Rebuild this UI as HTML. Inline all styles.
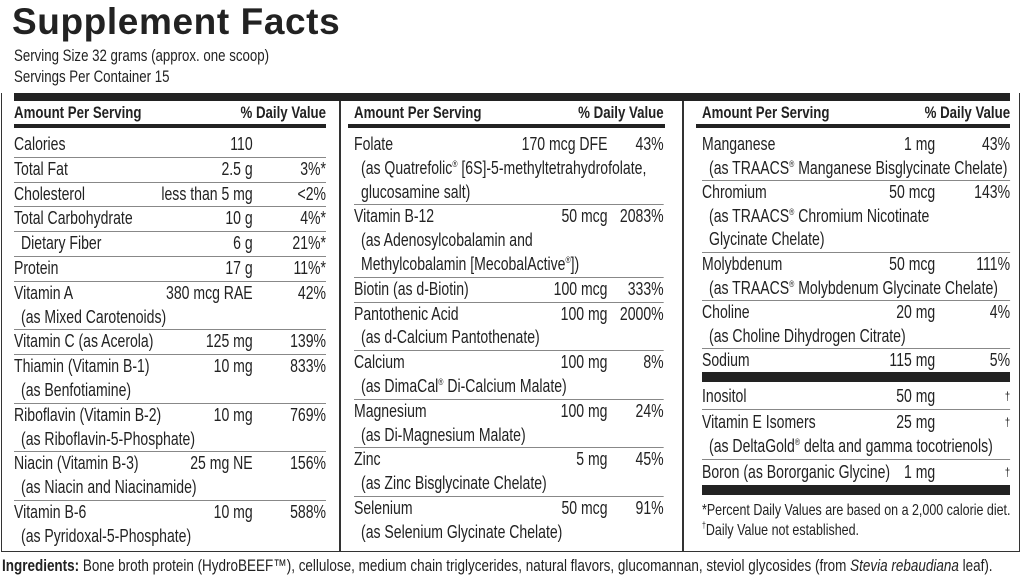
<!DOCTYPE html>
<html><head><meta charset="utf-8"><style>
body{margin:0;width:1024px;height:587px;background:#fff;position:relative;overflow:hidden;color:#222;font-family:"Liberation Sans",sans-serif;}
.a{position:absolute;white-space:nowrap}
.sc{transform:scaleX(0.78);transform-origin:0 0}
.title{left:12px;top:1px;font-weight:bold;font-size:37px;letter-spacing:0.6px}
.sv{left:14px;font-size:17px}
.box{position:absolute;left:1px;top:93px;width:1017px;height:458px;border:1.5px solid #333;border-top:none}
.bar{position:absolute;background:#222}
.vl{position:absolute;top:101px;width:1.5px;height:451px;background:#333}
.w{position:absolute;top:0;height:560px;transform:scaleX(0.78);transform-origin:0 0}
.col{position:absolute;left:0;right:0;top:133px}
.hd{position:absolute;top:103px;font-weight:bold;font-size:17px;white-space:nowrap}
.r{position:relative;border-bottom:1px solid #888;font-size:18px;line-height:23.8px;white-space:nowrap}
.r.nb{border-bottom:none}
.r div{height:23.8px}
.t .r{line-height:23.6px}
.t .r div{height:23.6px}
.u .r{line-height:24.5px}
.u .r div{height:24.5px}
.s{padding-left:9px}
.m{position:absolute;top:0;text-align:right}
.d{position:absolute;top:0;right:0;text-align:right}
sup{font-size:9px;vertical-align:7px;line-height:0}
</style></head><body>
<div class="a title">Supplement Facts</div>
<div class="a sv sc" style="top:46px">Serving Size 32 grams (approx. one scoop)</div>
<div class="a sv sc" style="top:67px">Servings Per Container 15</div>
<div class="box"></div>
<div class="bar" style="left:14px;top:93px;width:996px;height:8px"></div>
<div class="vl" style="left:339px"></div>
<div class="vl" style="left:682px"></div>
<div class="bar" style="left:14px;top:124px;width:312px;height:4px"></div>
<div class="bar" style="left:348px;top:124px;width:317px;height:4px"></div>
<div class="bar" style="left:696px;top:124px;width:314px;height:4px"></div>

<div class="w" style="left:14px;width:400px">
<div class="hd" style="left:0">Amount Per Serving</div><div class="hd" style="right:0">% Daily Value</div>
<div class="col">
<div class="r"><div>Calories</div><span class="m" style="right:94px">110</span></div>
<div class="r"><div>Total Fat</div><span class="m" style="right:94px">2.5 g</span><span class="d">3%*</span></div>
<div class="r"><div>Cholesterol</div><span class="m" style="right:94px">less than 5 mg</span><span class="d">&lt;2%</span></div>
<div class="r"><div>Total Carbohydrate</div><span class="m" style="right:94px">10 g</span><span class="d">4%*</span></div>
<div class="r"><div class="s">Dietary Fiber</div><span class="m" style="right:94px">6 g</span><span class="d">21%*</span></div>
<div class="r"><div>Protein</div><span class="m" style="right:94px">17 g</span><span class="d">11%*</span></div>
<div class="r"><div>Vitamin A</div><div class="s">(as Mixed Carotenoids)</div><span class="m" style="right:94px">380 mcg RAE</span><span class="d">42%</span></div>
<div class="r"><div>Vitamin C (as Acerola)</div><span class="m" style="right:94px">125 mg</span><span class="d">139%</span></div>
<div class="r"><div>Thiamin (Vitamin B-1)</div><div class="s">(as Benfotiamine)</div><span class="m" style="right:94px">10 mg</span><span class="d">833%</span></div>
<div class="r"><div>Riboflavin (Vitamin B-2)</div><div class="s">(as Riboflavin-5-Phosphate)</div><span class="m" style="right:94px">10 mg</span><span class="d">769%</span></div>
<div class="r"><div>Niacin (Vitamin B-3)</div><div class="s">(as Niacin and Niacinamide)</div><span class="m" style="right:94px">25 mg NE</span><span class="d">156%</span></div>
<div class="r nb"><div>Vitamin B-6</div><div class="s">(as Pyridoxal-5-Phosphate)</div><span class="m" style="right:94px">10 mg</span><span class="d">588%</span></div>
</div></div>

<div class="w" style="left:354px;width:397px">
<div class="hd" style="left:0">Amount Per Serving</div><div class="hd" style="right:0">% Daily Value</div>
<div class="col">
<div class="r"><div>Folate</div><div class="s">(as Quatrefolic<sup>®</sup> [6S]-5-methyltetrahydrofolate,</div><div class="s">glucosamine salt)</div><span class="m" style="right:72px">170 mcg DFE</span><span class="d">43%</span></div>
<div class="r"><div>Vitamin B-12</div><div class="s">(as Adenosylcobalamin and</div><div class="s">Methylcobalamin [MecobalActive<sup>®</sup>])</div><span class="m" style="right:72px">50 mcg</span><span class="d">2083%</span></div>
<div class="r"><div>Biotin (as d-Biotin)</div><span class="m" style="right:72px">100 mcg</span><span class="d">333%</span></div>
<div class="r"><div>Pantothenic Acid</div><div class="s">(as d-Calcium Pantothenate)</div><span class="m" style="right:72px">100 mg</span><span class="d">2000%</span></div>
<div class="r"><div>Calcium</div><div class="s">(as DimaCal<sup>®</sup> Di-Calcium Malate)</div><span class="m" style="right:72px">100 mg</span><span class="d">8%</span></div>
<div class="r"><div>Magnesium</div><div class="s">(as Di-Magnesium Malate)</div><span class="m" style="right:72px">100 mg</span><span class="d">24%</span></div>
<div class="r"><div>Zinc</div><div class="s">(as Zinc Bisglycinate Chelate)</div><span class="m" style="right:72px">5 mg</span><span class="d">45%</span></div>
<div class="r nb"><div>Selenium</div><div class="s">(as Selenium Glycinate Chelate)</div><span class="m" style="right:72px">50 mcg</span><span class="d">91%</span></div>
</div></div>

<div class="w" style="left:702px;width:395px">
<div class="hd" style="left:0">Amount Per Serving</div><div class="hd" style="right:0">% Daily Value</div>
<div class="col t">
<div class="r"><div>Manganese</div><div class="s">(as TRAACS<sup>®</sup> Manganese Bisglycinate Chelate)</div><span class="m" style="right:96px">1 mg</span><span class="d">43%</span></div>
<div class="r"><div>Chromium</div><div class="s">(as TRAACS<sup>®</sup> Chromium Nicotinate</div><div class="s">Glycinate Chelate)</div><span class="m" style="right:96px">50 mcg</span><span class="d">143%</span></div>
<div class="r"><div>Molybdenum</div><div class="s">(as TRAACS<sup>®</sup> Molybdenum Glycinate Chelate)</div><span class="m" style="right:96px">50 mcg</span><span class="d">111%</span></div>
<div class="r"><div>Choline</div><div class="s">(as Choline Dihydrogen Citrate)</div><span class="m" style="right:96px">20 mg</span><span class="d">4%</span></div>
<div class="r nb"><div>Sodium</div><span class="m" style="right:96px">115 mg</span><span class="d">5%</span></div>
</div>
<div class="col u" style="top:384px">
<div class="r"><div>Inositol</div><span class="m" style="right:96px">50 mg</span><span class="d" style="font-size:12px">†</span></div>
<div class="r"><div>Vitamin E Isomers</div><div class="s">(as DeltaGold<sup>®</sup> delta and gamma tocotrienols)</div><span class="m" style="right:96px">25 mg</span><span class="d" style="font-size:12px">†</span></div>
<div class="r nb"><div>Boron (as Bororganic Glycine)</div><span class="m" style="right:96px">1 mg</span><span class="d" style="font-size:12px">†</span></div>
</div>
<div class="a" style="left:0;top:502px;font-size:16px">*Percent Daily Values are based on a 2,000 calorie diet.</div>
<div class="a" style="left:0;top:522px;font-size:16px"><sup>†</sup>Daily Value not established.</div>
</div>
<div class="bar" style="left:702px;top:372px;width:308px;height:10px"></div>
<div class="bar" style="left:702px;top:485px;width:308px;height:10px"></div>

<div class="a" style="left:2px;top:556px;font-size:17px;transform:scaleX(0.793);transform-origin:0 0"><b>Ingredients:</b> Bone broth protein (HydroBEEF™), cellulose, medium chain triglycerides, natural flavors, glucomannan, steviol glycosides (from <i>Stevia rebaudiana</i> leaf).</div>
</body></html>
